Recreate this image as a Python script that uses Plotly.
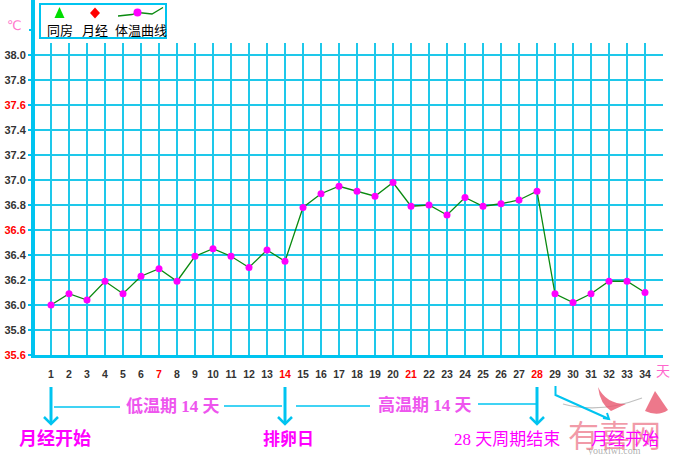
import plotly.graph_objects as go

# ---------------- data ----------------
days = list(range(1, 35))
temps = [36.00, 36.09, 36.04, 36.19, 36.09, 36.23, 36.29, 36.19, 36.39, 36.45,
         36.39, 36.30, 36.44, 36.35, 36.78, 36.89, 36.95, 36.91, 36.87, 36.98,
         36.79, 36.80, 36.72, 36.86, 36.79, 36.81, 36.84, 36.91, 36.09, 36.02,
         36.09, 36.19, 36.19, 36.10]
menses_days = [1, 2, 3, 4, 5, 6, 29, 30, 31, 32, 33, 34]
sex_days = [14]
red_x_labels = [7, 14, 21, 28]
y_ticks = [35.6, 35.8, 36.0, 36.2, 36.4, 36.6, 36.8, 37.0, 37.2, 37.4, 37.6, 37.8, 38.0]
red_y_labels = [35.6, 36.6, 37.6]
legend_labels = ["同房", "月经", "体温曲线"]
phase_labels = ["低温期 14 天", "高温期 14 天"]
note_labels = ["月经开始", "排卵日", "28 天周期结束", "月经开始"]
note_days = [1, 14, 28, 29]
unit_y = "℃"
unit_x = "天"
watermark = ["有喜网", "youxiwi.com"]

# ---------------- geometry / style ----------------
FIG_W, FIG_H = 675, 455
L, R_PX, T_PX, B_PX = 35, 663, 43, 355
W = R_PX - L
H = B_PX - T_PX
DAY1_PX, DAY_STEP = 51, 18.0
Y0, PX_PER_DEG = 35.6, 125.0
CYAN = "#1ec8ea"
CYAN_AX = "#00c4f0"
WM_RED = "rgba(232,86,110,0.8)"

x_range = [1 + (L - DAY1_PX) / DAY_STEP, 1 + (R_PX - DAY1_PX) / DAY_STEP]
y_range = [Y0, Y0 + H / PX_PER_DEG]


def px(x):
    return (x - L) / W


def py(y):
    return (B_PX - y) / H


def dpx(day):
    return DAY1_PX + (day - 1) * DAY_STEP


fig = go.Figure()

fig.add_trace(go.Scatter(
    x=days, y=temps, mode="lines+markers",
    line=dict(color="#0a8a10", width=1.3),
    marker=dict(color="#ff00ff", size=7),
    showlegend=False, hoverinfo="x+y"))

mark_y = Y0 - 8 / PX_PER_DEG
fig.add_trace(go.Scatter(
    x=menses_days, y=[mark_y] * len(menses_days), mode="markers",
    marker=dict(symbol="diamond", color="#ff0000", size=11),
    cliponaxis=False, showlegend=False))
fig.add_trace(go.Scatter(
    x=sex_days, y=[mark_y] * len(sex_days), mode="markers",
    marker=dict(symbol="triangle-up", color="#00dd00", size=11),
    cliponaxis=False, showlegend=False))

x_ticktext = []
for d in days:
    if d in red_x_labels:
        x_ticktext.append(f"<span style='color:#ff0000'><b>{d}</b></span>")
    else:
        x_ticktext.append(f"<b>{d}</b>")
y_ticktext = []
for v in y_ticks:
    if any(abs(v - r) < 1e-6 for r in red_y_labels):
        y_ticktext.append(f"<span style='color:#ff0000'><b>{v:.1f}</b></span>")
    else:
        y_ticktext.append(f"<b>{v:.1f}</b>")

shapes = []


def path(points):
    return "M " + " L ".join(f"{px(a)},{py(b)}" for a, b in points)


# watermark logo (faint)
shapes.append(dict(type="path", xref="paper", yref="paper",
                   path=(f"M {px(563)},{py(404)} Q {px(600)},{py(414)} {px(642)},{py(398)}"),
                   line=dict(color="rgba(150,150,150,0.6)", width=1.2)))
shapes.append(dict(type="path", xref="paper", yref="paper",
                   path=(f"M {px(598)},{py(387)} Q {px(606)},{py(404)} {px(626)},{py(404)} "
                         f"L {px(611)},{py(411)} Q {px(600)},{py(404)} {px(598)},{py(387)} Z"),
                   line=dict(width=0), fillcolor=WM_RED))
shapes.append(dict(type="path", xref="paper", yref="paper",
                   path=(f"M {px(655)},{py(391)} L {px(668)},{py(410)} "
                         f"Q {px(658)},{py(417)} {px(645)},{py(411)} Z"),
                   line=dict(width=0), fillcolor=WM_RED))

# y axis extension to the top + top tick
shapes.append(dict(type="line", xref="paper", yref="paper",
                   x0=px(33), x1=px(33), y0=1, y1=py(0),
                   line=dict(color=CYAN_AX, width=4)))
shapes.append(dict(type="line", xref="paper", yref="paper",
                   x0=px(29), x1=px(33), y0=py(30), y1=py(30),
                   line=dict(color=CYAN_AX, width=2)))
# legend box
shapes.append(dict(type="rect", xref="paper", yref="paper",
                   x0=px(40), x1=px(166), y0=py(4), y1=py(38),
                   line=dict(color=CYAN_AX, width=2), fillcolor="white"))
shapes.append(dict(type="path", xref="paper", yref="paper",
                   path=path([(59.5, 7), (64.5, 18), (54.5, 18)]) + " Z",
                   line=dict(width=0), fillcolor="#00dd00"))
shapes.append(dict(type="path", xref="paper", yref="paper",
                   path=path([(95, 7.5), (100, 13), (95, 18.5), (90, 13)]) + " Z",
                   line=dict(width=0), fillcolor="#ff0000"))
shapes.append(dict(type="path", xref="paper", yref="paper",
                   path=path([(118, 16), (132, 14.5), (138, 12.5), (152, 14), (163, 7.5)]),
                   line=dict(color="#0a8a10", width=1.3)))
shapes.append(dict(type="circle", xref="paper", yref="paper",
                   x0=px(133.5), x1=px(141.5), y0=py(8.5), y1=py(16.5),
                   line=dict(width=0), fillcolor="#ff00ff"))

# vertical arrows
for d in note_days[:3]:
    xa = dpx(d)
    shapes.append(dict(type="line", xref="paper", yref="paper",
                       x0=px(xa), x1=px(xa), y0=py(387), y1=py(423),
                       line=dict(color=CYAN_AX, width=3)))
    shapes.append(dict(type="path", xref="paper", yref="paper",
                       path=path([(xa - 7, 417), (xa, 424), (xa + 7, 417)]),
                       line=dict(color=CYAN_AX, width=2.5)))
# bent arrow
xb = dpx(note_days[3]) + 0.5
shapes.append(dict(type="path", xref="paper", yref="paper",
                   path=path([(xb, 386), (xb, 395), (609, 419)]),
                   line=dict(color=CYAN_AX, width=2)))
shapes.append(dict(type="path", xref="paper", yref="paper",
                   path=path([(603, 418), (609, 419), (607, 413)]),
                   line=dict(color=CYAN_AX, width=2)))
# phase lines
for (a, b, y) in [(54, 120, 407), (224, 282, 406), (296, 370, 406), (478, 537, 404)]:
    shapes.append(dict(type="line", xref="paper", yref="paper",
                       x0=px(a), x1=px(b), y0=py(y), y1=py(y),
                       line=dict(color=CYAN_AX, width=1.5)))

annotations = []


def ann(text, x, y, size, color, family="Noto Sans CJK SC", xanchor="center"):
    annotations.append(dict(text=text, x=px(x), y=py(y), xref="paper", yref="paper",
                            showarrow=False, xanchor=xanchor, yanchor="middle",
                            font=dict(size=size, color=color, family=family)))


# watermark text first (behind notes)
ann(watermark[0], 614, 433, 31, "rgba(232,86,110,0.6)")
ann(watermark[1], 614, 450, 10, "rgba(140,140,140,0.7)", family="Liberation Serif")

ann(legend_labels[0], 59.5, 29.5, 13, "#000000")
ann(legend_labels[1], 94.5, 29.5, 13, "#000000")
ann(legend_labels[2], 141, 29.5, 13, "#000000")
ann(unit_y, 14, 26, 13, "#ff77cc", family="DejaVu Sans")
ann(unit_x, 663, 370, 14, "#ff66cc")

serif = "Liberation Serif, Noto Sans CJK SC"
ann(f"<b>{phase_labels[0]}</b>", 173, 406, 17, "#ee55ee", family=serif)
ann(f"<b>{phase_labels[1]}</b>", 425, 405, 17, "#ee55ee", family=serif)

ann(f"<b>{note_labels[0]}</b>", 55, 439, 18, "#ff00ff", family=serif)
ann(f"<b>{note_labels[1]}</b>", 288, 439, 17, "#ff00ff", family=serif)
ann(note_labels[2], 507, 439, 17, "#ff00ff", family=serif)
ann(note_labels[3], 625, 439, 17, "#ff00ff", family=serif)

fig.update_layout(
    width=FIG_W, height=FIG_H,
    margin=dict(l=L, r=FIG_W - R_PX, t=T_PX, b=FIG_H - B_PX, pad=0, autoexpand=False),
    paper_bgcolor="white", plot_bgcolor="white",
    shapes=shapes, annotations=annotations,
    xaxis=dict(range=x_range, tickmode="array", tickvals=days, ticktext=x_ticktext,
               showgrid=True, gridcolor=CYAN, gridwidth=1.5, zeroline=False,
               showline=True, linecolor=CYAN_AX, linewidth=3, automargin=False,
               ticks="", ticklabelstandoff=7,
               tickfont=dict(family="Liberation Sans", size=10.5, color="#333333")),
    yaxis=dict(range=y_range, tickmode="array", tickvals=y_ticks, ticktext=y_ticktext,
               showgrid=True, gridcolor=CYAN, gridwidth=1.5, zeroline=False,
               showline=True, linecolor=CYAN_AX, linewidth=4, automargin=False,
               ticks="outside", ticklen=3, tickcolor=CYAN_AX, tickwidth=2,
               ticklabelstandoff=0,
               tickfont=dict(family="Liberation Sans", size=11, color="#333333")),
)

fig.write_html("out.html", config={"displayModeBar": False},
               post_script="document.body.style.margin='0';document.body.style.padding='0';")
